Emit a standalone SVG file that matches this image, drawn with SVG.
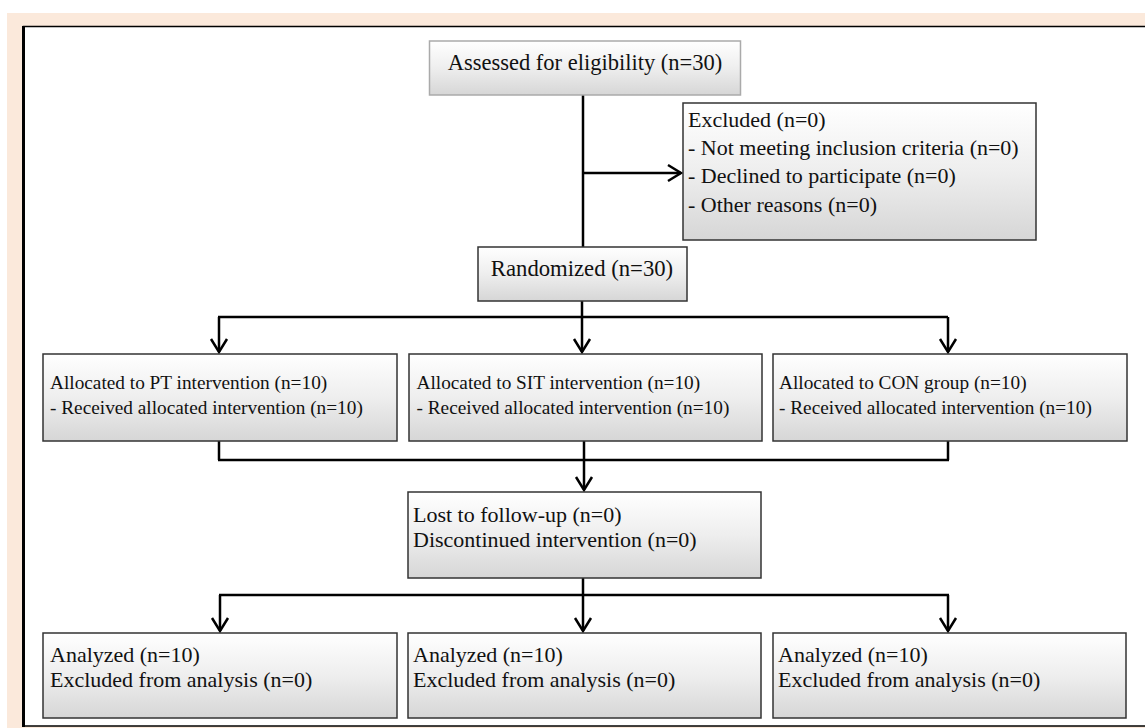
<svg xmlns="http://www.w3.org/2000/svg" width="1145" height="728" viewBox="0 0 1145 728">
<defs>
<linearGradient id="g" x1="0" y1="0" x2="0" y2="1">
<stop offset="0" stop-color="#ffffff"/>
<stop offset="0.5" stop-color="#eeeeee"/>
<stop offset="1" stop-color="#d6d6d6"/>
</linearGradient>
<marker id="arr" markerUnits="userSpaceOnUse" viewBox="-16 -10 18 20" markerWidth="18" markerHeight="20" refX="0" refY="0" orient="auto">
<path d="M-13,-8 L0,0 L-13,8" fill="none" stroke="#000" stroke-width="2.5"/>
</marker>
</defs>
<style>
.box{fill:url(#g);stroke:#333;stroke-width:1.5}
.box1{fill:url(#g);stroke:#aaa;stroke-width:1.5}
.t{font-family:"Liberation Serif","Times New Roman",serif;font-size:22px;fill:#111}
.s{font-family:"Liberation Serif","Times New Roman",serif;font-size:19.3px;fill:#111}
.c{stroke:#000;stroke-width:2.5;fill:none}
</style>
<rect x="0" y="0" width="1145" height="728" fill="#ffffff"/>
<rect x="7" y="13" width="1138" height="715" fill="#FBE9DB"/>
<rect x="23.5" y="26.5" width="1125" height="699.5" fill="#ffffff" stroke="#000" stroke-width="1.5"/>
<line x1="23.5" y1="26" x2="23.5" y2="727" stroke="#000" stroke-width="3"/>

<g id="connectors">
<path class="c" d="M583,95 V247"/>
<path class="c" d="M583,173 H681" marker-end="url(#arr)"/>
<path class="c" d="M582,301 V317"/>
<path class="c" d="M218,317 H948"/>
<path class="c" d="M219,317 V352" marker-end="url(#arr)"/>
<path class="c" d="M582,317 V352" marker-end="url(#arr)"/>
<path class="c" d="M948,317 V352" marker-end="url(#arr)"/>
<path class="c" d="M219,441 V460"/>
<path class="c" d="M948,441 V460"/>
<path class="c" d="M218,460 H949"/>
<path class="c" d="M584,441 V490" marker-end="url(#arr)"/>
<path class="c" d="M583,578 V595"/>
<path class="c" d="M219,595 H949"/>
<path class="c" d="M220,595 V631" marker-end="url(#arr)"/>
<path class="c" d="M583,595 V631" marker-end="url(#arr)"/>
<path class="c" d="M948,595 V631" marker-end="url(#arr)"/>
</g>

<g id="assessed">
<rect class="box1" x="429.5" y="41" width="311" height="54"/>
<text class="t" x="585" y="69.5" text-anchor="middle" style="font-size:22.5px">Assessed for eligibility (n=30)</text>
</g>

<g id="excluded">
<rect class="box" x="683" y="103" width="353" height="137"/>
<text class="t" x="688" y="126.7">Excluded (n=0)</text>
<text class="t" x="688" y="154.5">- Not meeting inclusion criteria (n=0)</text>
<text class="t" x="688" y="183.3">- Declined to participate (n=0)</text>
<text class="t" x="688" y="211.7">- Other reasons (n=0)</text>
</g>

<g id="randomized">
<rect class="box" x="478" y="247" width="209" height="54"/>
<text class="t" x="582" y="275.7" text-anchor="middle" style="font-size:22.7px">Randomized (n=30)</text>
</g>

<g id="alloc-pt">
<rect class="box" x="43" y="354" width="354" height="87"/>
<text class="s" x="50" y="389">Allocated to PT intervention (n=10)</text>
<text class="s" x="50" y="414">- Received allocated intervention (n=10)</text>
</g>

<g id="alloc-sit">
<rect class="box" x="409" y="354" width="353" height="87"/>
<text class="s" x="416.5" y="389">Allocated to SIT intervention (n=10)</text>
<text class="s" x="416.5" y="414">- Received allocated intervention (n=10)</text>
</g>

<g id="alloc-con">
<rect class="box" x="773" y="354" width="354" height="87"/>
<text class="s" x="779" y="389">Allocated to CON group (n=10)</text>
<text class="s" x="779" y="414">- Received allocated intervention (n=10)</text>
</g>

<g id="lost">
<rect class="box" x="408" y="492" width="353" height="86"/>
<text class="t" x="413" y="521.7">Lost to follow-up (n=0)</text>
<text class="t" x="413" y="546.7">Discontinued intervention (n=0)</text>
</g>

<g id="analyzed-pt">
<rect class="box" x="43" y="633" width="354" height="85"/>
<text class="t" x="50" y="661.7">Analyzed (n=10)</text>
<text class="t" x="50" y="686.7">Excluded from analysis (n=0)</text>
</g>

<g id="analyzed-sit">
<rect class="box" x="408" y="633" width="353" height="85"/>
<text class="t" x="413" y="661.7">Analyzed (n=10)</text>
<text class="t" x="413" y="686.7">Excluded from analysis (n=0)</text>
</g>

<g id="analyzed-con">
<rect class="box" x="773" y="633" width="353" height="85"/>
<text class="t" x="778" y="661.7">Analyzed (n=10)</text>
<text class="t" x="778" y="686.7">Excluded from analysis (n=0)</text>
</g>
</svg>
